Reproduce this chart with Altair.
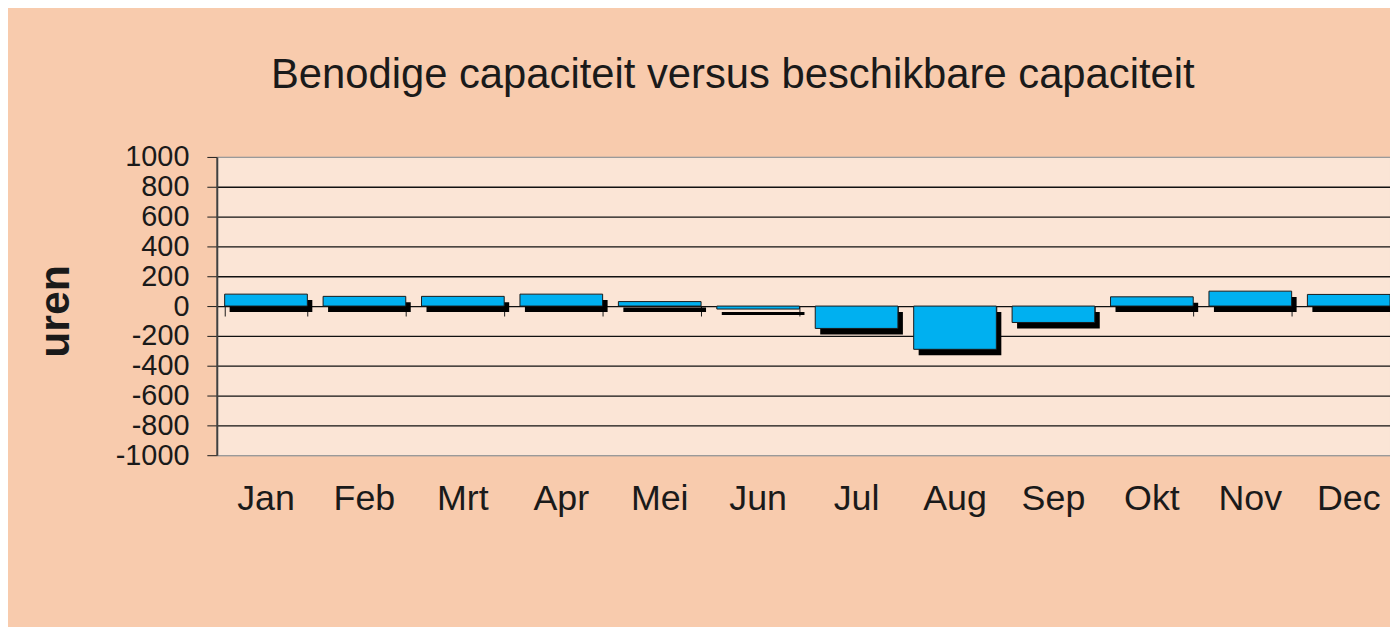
import altair as alt
import pandas as pd

months = ["Jan", "Feb", "Mrt", "Apr", "Mei", "Jun", "Jul", "Aug", "Sep", "Okt", "Nov", "Dec"]
verschil = [80, 65, 65, 80, 30, -20, -150, -290, -110, 62, 100, 78]
y_ticks = [-1000, -800, -600, -400, -200, 0, 200, 400, 600, 800, 1000]

df = pd.DataFrame({"maand": months, "uren": verschil})

FONT = "Liberation Sans"
TXT = "#1a1a1a"

x_scale = alt.Scale(domain=months, range=[0, 1188], paddingInner=0.16, paddingOuter=0.08)
y_scale = alt.Scale(domain=[-1000, 1000], nice=False)

y_axis = alt.Axis(
    values=y_ticks, labelExpr="'' + datum.value", labelOverlap=False,
    title="uren", titleFont=FONT, titleFontSize=43, titleFontWeight="bold",
    titleColor=TXT, titleAngle=270, titleX=-162, titleY=155, titleAlign="center",
    titleBaseline="middle", labelFont=FONT, labelFontSize=29, labelColor=TXT,
    labelPadding=18, tickSize=10, tickColor=TXT, domainColor="#404040", domainWidth=2,
    grid=True, gridColor={"condition": {"test": "abs(datum.value) >= 1000", "value": "#9a9a9a"}, "value": "#111111"},
    gridWidth=1.3,
)

base = alt.Chart(df)

shadow = base.mark_bar(color="#000000", xOffset=5, yOffset=6).encode(
    x=alt.X("maand:N", sort=months, scale=x_scale,
            axis=alt.Axis(orient="bottom", title=None, labelAngle=0, labelFont=FONT,
                          labelFontSize=36, labelColor=TXT, labelPadding=27, ticks=False,
                          domain=False, grid=False)),
    y=alt.Y("uren:Q", scale=y_scale, axis=y_axis),
)

bars = base.mark_bar(color="#00B0F0", stroke=TXT, strokeWidth=1).encode(
    x=alt.X("maand:N", sort=months, scale=x_scale,
            axis=alt.Axis(orient="bottom", offset=-150, labels=False, ticks=True,
                          tickBand="extent", tickSize=10, tickColor=TXT, domain=False,
                          grid=False, title=None)),
    y=alt.Y("uren:Q", scale=y_scale, axis=y_axis),
)

chart = alt.layer(shadow, bars).resolve_axis(x="independent").properties(
    width=1180,
    height=300,
    autosize=alt.AutoSizeParams(type="none"),
    padding={"left": 210, "top": 148, "right": 0, "bottom": 171},
    background="#F8CBAD",
    title=alt.TitleParams(
        "Benodige capaciteit versus beschikbare capaciteit", font=FONT, fontSize=42,
        fontWeight="normal", color=TXT, anchor="middle", frame="group", dx=-71, dy=53,
        baseline="alphabetic", offset=66,
    ),
).configure_view(fill="#FBE5D6", stroke="#9a9a9a", strokeWidth=1)

chart.save("out.html", embed_options={"renderer": "svg", "actions": False})
